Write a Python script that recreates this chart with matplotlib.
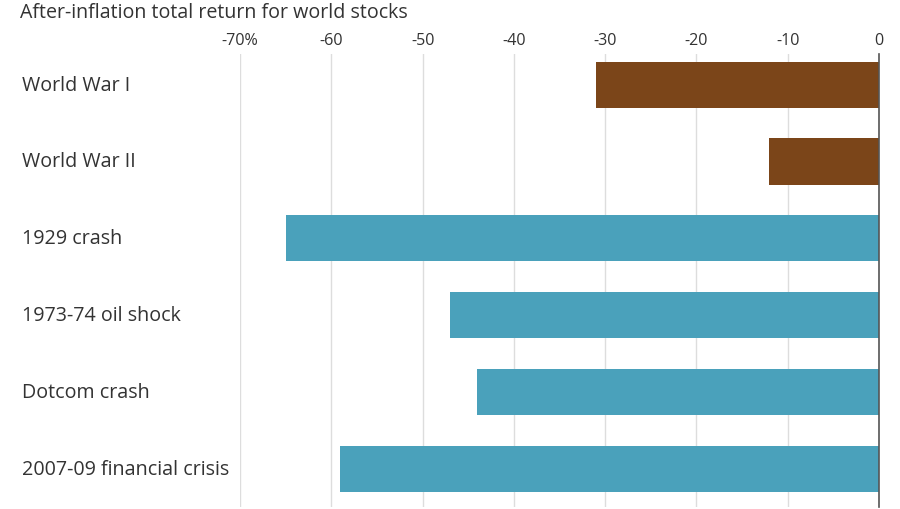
import matplotlib
matplotlib.use('Agg')
import matplotlib.pyplot as plt
import matplotlib.transforms as mtransforms

plt.rcParams['font.family'] = ['Open Sans', 'DejaVu Sans']

# Daten
events = ['World War I', 'World War II', '1929 crash', '1973-74 oil shock',
          'Dotcom crash', '2007-09 financial crisis']
returns = [-31, -12, -65, -47, -44, -59]
colors = ['#7b4519', '#7b4519', '#4aa1bb', '#4aa1bb', '#4aa1bb', '#4aa1bb']
ticks = [-70, -60, -50, -40, -30, -20, -10, 0]
ticklabels = ['-70%', '-60', '-50', '-40', '-30', '-20', '-10', '0']

fig = plt.figure(figsize=(9, 5.1), dpi=100)
ax = fig.add_axes([240/900, 2/510, 639/900, 453/510])

ypos = list(range(len(events)))
ax.barh(ypos, returns, height=0.6, color=colors, zorder=2)

ax.set_xlim(-70, 0)
ax.set_ylim(5.5, -0.4)
ax.set_xticks(ticks)
ax.set_xticklabels(ticklabels)
ax.xaxis.tick_top()
ax.tick_params(axis='x', length=0, pad=4.5, labelsize=11.6, labelcolor='#333333')
ax.set_yticks([])
ax.grid(axis='x', color='#dddddd', linewidth=1, zorder=0)
for s in ax.spines.values():
    s.set_visible(False)
ax.axvline(0, color='#555555', linewidth=1.2, zorder=3, clip_on=False)

# Kategorien links
trans = mtransforms.blended_transform_factory(fig.transFigure, ax.transData)
for i, name in enumerate(events):
    ax.text(22/900, i, name, transform=trans, ha='left', va='center',
            fontsize=14.2, color='#333333')

fig.text(20/900, 1 - 13/510, 'After-inflation total return for world stocks',
         ha='left', va='center', fontsize=14.1, color='#333333')

fig.savefig('out.png', dpi=100, facecolor='white')
